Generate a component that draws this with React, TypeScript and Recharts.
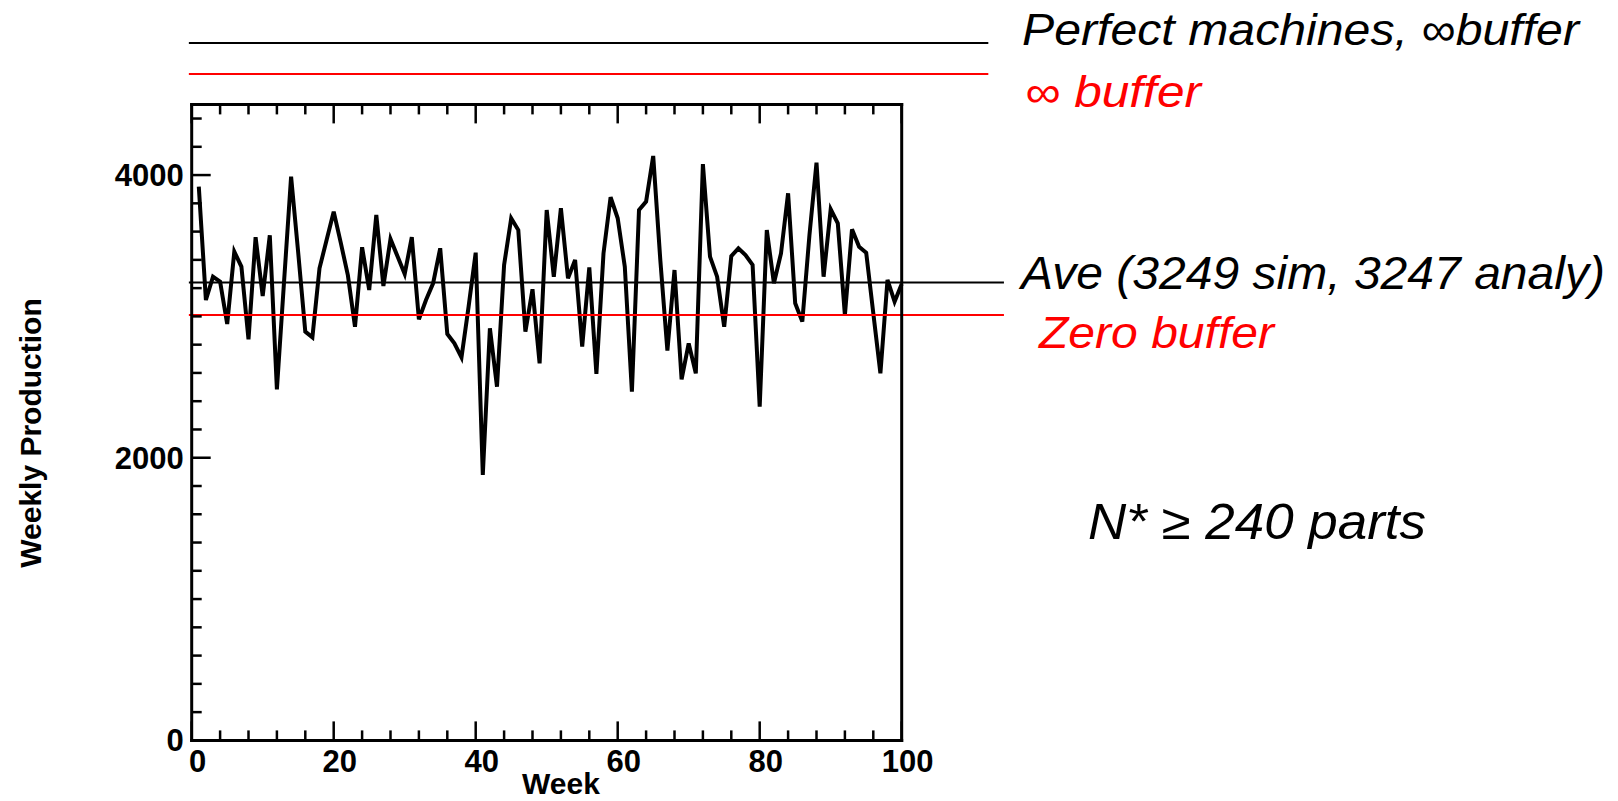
import React from "react";
import { LineChart, Line, XAxis, YAxis, ReferenceLine } from "recharts";

// weekly production, weeks 1..100
const weeks = Array.from({ length: 100 }, (_, i) => i + 1);
const production = [
  3918, 3116, 3281, 3246, 2946, 3458, 3352, 2838, 3560, 3144,
  3574, 2484, 3240, 3989, 3451, 2892, 2852, 3340, 3541, 3741,
  3520, 3290, 2927, 3489, 3187, 3718, 3215, 3548, 3423, 3300,
  3560, 2979, 3116, 3234, 3482, 2876, 2810, 2710, 3069, 3451,
  1878, 2916, 2503, 3364, 3694, 3611, 2892, 3192, 2668, 3753,
  3281, 3765, 3269, 3399, 2786, 3347, 2593, 3446, 3843, 3694,
  3352, 2468, 3753, 3812, 4135, 3400, 2758, 3328, 2555, 2809,
  2597, 4078, 3423, 3281, 2927, 3427, 3482, 3434, 3364, 2361,
  3611, 3234, 3446, 3871, 3093, 2963, 3571, 4088, 3281, 3758,
  3659, 3010, 3616, 3493, 3451, 3022, 2597, 3258, 3104, 3229,
];

const xTicks = [0, 4, 8, 12, 16, 20, 24, 28, 32, 36, 40, 44, 48, 52, 56, 60, 64, 68, 72, 76, 80, 84, 88, 92, 96, 100];
const xLabels = [0, 20, 40, 60, 80, 100];
const yTicks = [
  0, 200, 400, 600, 800, 1000, 1200, 1400, 1600, 1800, 2000, 2200,
  2400, 2600, 2800, 3000, 3200, 3400, 3600, 3800, 4000, 4200, 4400,
];
const yLabels = [0, 2000, 4000];

// horizontal reference levels
const perfectLevel = 4935;
const infiniteBufferLevel = 4715;
const averageLevel = 3240;
const zeroBufferLevel = 3010;

const data = weeks.map((week, i) => ({ week, value: production[i] }));

const FONT = "'Liberation Sans', Arial, Helvetica, sans-serif";
const MAJOR = 19;
const MINOR = 10;

const tickText = {
  fontFamily: FONT,
  fontWeight: 700,
  fontSize: 31,
  fill: "#000",
};

const BottomTick = ({ x, y, payload }: any) => {
  const major = xLabels.includes(payload.value);
  return (
    <g>
      <line x1={x} x2={x} y1={y} y2={y - (major ? MAJOR : MINOR)} stroke="#000" strokeWidth={2.5} />
      {major && (
        <text x={x + 6} y={y + 32} textAnchor="middle" {...tickText}>
          {payload.value}
        </text>
      )}
    </g>
  );
};

const TopTick = ({ x, y, payload }: any) => {
  const major = xLabels.includes(payload.value);
  return <line x1={x} x2={x} y1={y} y2={y + (major ? MAJOR : MINOR)} stroke="#000" strokeWidth={2.5} />;
};

const LeftTick = ({ x, y, payload }: any) => {
  const major = yLabels.includes(payload.value);
  return (
    <g>
      <line x1={x} x2={x + (major ? MAJOR : MINOR)} y1={y} y2={y} stroke="#000" strokeWidth={2.5} />
      {major && (
        <text x={x - 8} y={y + 11} textAnchor="end" {...tickText}>
          {payload.value}
        </text>
      )}
    </g>
  );
};

const RightTick = ({ x, y, payload }: any) => {
  const major = yLabels.includes(payload.value);
  return <line x1={x} x2={x - (major ? MAJOR + 2 : MINOR + 1)} y1={y} y2={y} stroke="#000" strokeWidth={2.5} />;
};

const note = {
  fontFamily: FONT,
  fontStyle: "italic" as const,
};

const frame = { stroke: "#000", strokeWidth: 3, strokeLinecap: "square" as const };

export default function App() {
  return (
    <div style={{ position: "absolute", left: 0, top: 0, background: "#fff" }}>
      <LineChart
        width={1618}
        height={801}
        data={data}
        margin={{ top: 94.4, right: 706.3, bottom: 50.6, left: 131.7 }}
      >
        <XAxis
          xAxisId="bottom"
          dataKey="week"
          type="number"
          domain={[0, 100]}
          ticks={xTicks}
          interval={0}
          height={10}
          tickSize={0}
          tickMargin={0}
          tickLine={false}
          axisLine={frame}
          tick={BottomTick}
        />
        <XAxis
          xAxisId="top"
          orientation="top"
          dataKey="week"
          type="number"
          domain={[0, 100]}
          ticks={xTicks}
          interval={0}
          height={10}
          tickSize={0}
          tickMargin={0}
          tickLine={false}
          axisLine={frame}
          tick={TopTick}
        />
        <YAxis
          yAxisId="left"
          type="number"
          domain={[0, 4500]}
          ticks={yTicks}
          interval={0}
          width={60}
          tickSize={0}
          tickMargin={0}
          tickLine={false}
          axisLine={frame}
          tick={LeftTick}
        />
        <YAxis
          yAxisId="right"
          orientation="right"
          type="number"
          domain={[0, 4500]}
          ticks={yTicks}
          interval={0}
          width={10}
          tickSize={0}
          tickMargin={0}
          tickLine={false}
          axisLine={frame}
          tick={RightTick}
        />

        <ReferenceLine
          xAxisId="bottom"
          yAxisId="left"
          ifOverflow="visible"
          segment={[{ x: -0.4, y: perfectLevel }, { x: 112.2, y: perfectLevel }]}
          stroke="#000"
          strokeWidth={2}
        />
        <ReferenceLine
          xAxisId="bottom"
          yAxisId="left"
          ifOverflow="visible"
          segment={[{ x: -0.4, y: infiniteBufferLevel }, { x: 112.2, y: infiniteBufferLevel }]}
          stroke="#ff0000"
          strokeWidth={2}
        />

        <Line
          xAxisId="bottom"
          yAxisId="left"
          type="linear"
          dataKey="value"
          stroke="#000"
          strokeWidth={4}
          dot={false}
          activeDot={false}
          isAnimationActive={false}
        />

        <ReferenceLine
          xAxisId="bottom"
          yAxisId="left"
          ifOverflow="visible"
          segment={[{ x: -0.4, y: averageLevel }, { x: 114.4, y: averageLevel }]}
          stroke="#000"
          strokeWidth={2}
        />
        <ReferenceLine
          xAxisId="bottom"
          yAxisId="left"
          ifOverflow="visible"
          segment={[{ x: -0.4, y: zeroBufferLevel }, { x: 114.4, y: zeroBufferLevel }]}
          stroke="#ff0000"
          strokeWidth={2}
        />

        <text x={1022} y={44.6} fontSize={45} textLength={557} lengthAdjust="spacingAndGlyphs" fill="#000" {...note}>
          Perfect machines, ∞buffer
        </text>
        <text x={1025} y={107} fontSize={44} textLength={176} lengthAdjust="spacingAndGlyphs" fill="#ff0000" {...note}>
          ∞ buffer
        </text>
        <text x={1021} y={288.6} fontSize={46} textLength={584} lengthAdjust="spacingAndGlyphs" fill="#000" {...note}>
          Ave (3249 sim, 3247 analy)
        </text>
        <text x={1039} y={348} fontSize={45} textLength={235} lengthAdjust="spacingAndGlyphs" fill="#ff0000" {...note}>
          Zero buffer
        </text>
        <text x={1088} y={539.3} fontSize={50} textLength={338} lengthAdjust="spacingAndGlyphs" fill="#000" {...note}>
          N* ≥ 240 parts
        </text>

        <text x={561} y={794} textAnchor="middle" fontFamily={FONT} fontWeight={700} fontSize={30} fill="#000">
          Week
        </text>
        <text
          transform="translate(41, 433) rotate(-90)"
          textAnchor="middle"
          fontFamily={FONT}
          fontWeight={700}
          fontSize={30}
          fill="#000"
        >
          Weekly Production
        </text>
      </LineChart>
    </div>
  );
}
